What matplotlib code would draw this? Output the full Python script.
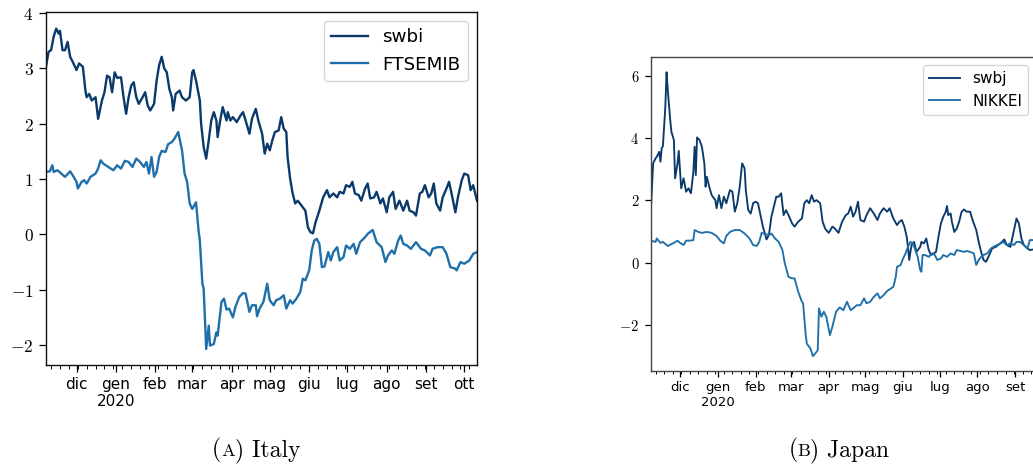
import pandas as pd
import matplotlib
matplotlib.use("Agg")
import matplotlib.pyplot as plt
import matplotlib.dates as mdates
from matplotlib.ticker import FuncFormatter

plt.rcParams['mathtext.fontset'] = 'cm'

# Italian month abbreviations for the date axis
mesi = ['gen', 'feb', 'mar', 'apr', 'mag', 'giu', 'lug', 'ago', 'set', 'ott', 'nov', 'dic']

start = pd.Timestamp('2019-11-07')

# ---- Italy: days since start, values ----
swbi_day = [0, 2, 4, 6, 8, 10, 11, 13, 15, 17, 19, 21, 24, 26, 29, 31, 32, 34, 36, 39,
            41, 44, 46, 48, 50, 52, 54, 56, 59, 61, 63, 65, 67, 69, 71, 73, 76, 78, 80, 82,
            85, 87, 89, 91, 93, 95, 97, 99, 100, 102, 105, 107, 110, 113, 115, 116, 118, 121, 122, 124,
            126, 128, 130, 132, 134, 135, 137, 139, 142, 143, 145, 147, 150, 153, 155, 157, 160, 162, 165, 167,
            170, 172, 174, 176, 178, 180, 183, 185, 187, 189, 190, 192, 194, 196, 198, 201, 204, 206, 208, 210,
            212, 215, 218, 221, 223, 226, 229, 231, 234, 236, 239, 241, 243, 246, 248, 251, 253, 255, 258, 260,
            263, 265, 268, 270, 273, 275, 278, 281, 284, 286, 289, 291, 294, 296, 298, 301, 303, 305, 307, 310,
            312, 315, 317, 319, 322, 324, 327, 329, 332, 334, 336, 339]
swbi = [3.03, 3.30, 3.33, 3.57, 3.72, 3.63, 3.68, 3.33, 3.33, 3.48, 3.21, 3.12, 2.97, 3.09, 3.03, 2.60, 2.48, 2.54, 2.42, 2.48,
        2.09, 2.42, 2.57, 2.87, 2.84, 2.57, 2.93, 2.83, 2.84, 2.48, 2.18, 2.48, 2.69, 2.75, 2.48, 2.36, 2.48, 2.57, 2.33, 2.24,
        2.36, 2.78, 3.06, 3.21, 3.00, 2.93, 2.63, 2.48, 2.24, 2.54, 2.60, 2.48, 2.42, 2.48, 2.93, 2.97, 2.78, 2.42, 2.00, 1.58,
        1.37, 1.70, 2.06, 2.21, 2.06, 1.76, 2.06, 2.30, 2.06, 2.21, 2.06, 2.12, 2.03, 2.15, 2.21, 2.06, 1.82, 2.09, 2.27, 2.06,
        1.82, 1.46, 1.64, 1.52, 1.70, 1.85, 1.88, 2.12, 1.91, 1.85, 1.40, 1.01, 0.74, 0.56, 0.61, 0.52, 0.43, 0.13, 0.04, 0.02,
        0.22, 0.43, 0.67, 0.80, 0.67, 0.74, 0.67, 0.77, 0.74, 0.89, 0.86, 0.95, 0.74, 0.71, 0.61, 0.83, 0.92, 0.65, 0.67, 0.77,
        0.56, 0.65, 0.40, 0.67, 0.77, 0.46, 0.61, 0.43, 0.61, 0.43, 0.40, 0.34, 0.74, 0.77, 0.89, 0.67, 0.74, 0.92, 0.56, 0.43,
        0.67, 0.83, 0.95, 0.74, 0.40, 0.67, 0.98, 1.10, 1.07, 0.80, 0.89, 0.61]

ftse_day = [0, 3, 5, 6, 9, 12, 15, 19, 21, 24, 25, 28, 30, 32, 35, 39, 41, 43, 45, 49,
            53, 56, 59, 62, 65, 68, 71, 74, 77, 79, 81, 83, 85, 87, 89, 91, 94, 96, 99, 101,
            104, 107, 109, 111, 113, 115, 118, 120, 121, 123, 124, 126, 128, 129, 132, 134, 135, 138, 140, 142,
            144, 147, 149, 152, 155, 157, 160, 162, 165, 166, 168, 171, 174, 176, 179, 181, 184, 187, 189, 192,
            194, 197, 200, 202, 204, 207, 209, 211, 213, 215, 217, 219, 222, 224, 226, 229, 231, 234, 236, 239,
            242, 244, 247, 251, 253, 257, 260, 264, 267, 269, 272, 274, 277, 279, 281, 284, 287, 291, 295, 298,
            302, 304, 308, 312, 315, 318, 322, 323, 326, 329, 333, 336, 339]
ftsemib = [1.13, 1.14, 1.25, 1.13, 1.16, 1.10, 1.04, 1.14, 1.07, 0.95, 0.83, 0.95, 0.98, 0.92, 1.04, 1.10, 1.19, 1.34, 1.28, 1.22,
           1.16, 1.25, 1.19, 1.33, 1.31, 1.22, 1.37, 1.31, 1.22, 1.31, 1.10, 1.40, 1.04, 1.13, 1.40, 1.51, 1.49, 1.63, 1.67, 1.73,
           1.85, 1.52, 1.10, 0.95, 0.56, 0.46, 0.58, 0.07, -0.11, -0.89, -0.98, -2.07, -1.65, -2.01, -1.98, -1.77, -1.83, -1.22, -1.16, -1.36,
           -1.34, -1.50, -1.31, -1.13, -1.06, -1.07, -1.40, -1.28, -1.28, -1.48, -1.34, -1.22, -0.89, -1.19, -1.28, -1.19, -1.16, -1.10, -1.34, -1.19,
           -1.25, -1.16, -1.04, -0.80, -0.83, -0.65, -0.29, -0.11, -0.08, -0.17, -0.59, -0.58, -0.32, -0.47, -0.32, -0.23, -0.47, -0.41, -0.20, -0.26,
           -0.17, -0.35, -0.14, -0.05, 0.01, 0.08, -0.14, -0.23, -0.50, -0.38, -0.29, -0.35, -0.11, -0.02, -0.17, -0.20, -0.26, -0.14, -0.26, -0.29,
           -0.38, -0.26, -0.23, -0.23, -0.35, -0.59, -0.62, -0.65, -0.50, -0.53, -0.47, -0.35, -0.32]

# ---- Japan ----
swbj_day = [0, 2, 4, 5, 7, 8, 9, 10, 12, 13, 14, 16, 17, 19, 20, 22, 23, 25, 27, 29,
            31, 33, 35, 36, 37, 38, 40, 42, 44, 45, 46, 48, 50, 53, 54, 56, 58, 60, 62, 65,
            67, 69, 71, 73, 75, 77, 78, 80, 82, 84, 86, 88, 90, 92, 95, 97, 99, 103, 105, 107,
            109, 111, 113, 116, 118, 121, 124, 126, 128, 130, 132, 134, 136, 139, 141, 143, 146, 149, 151, 154,
            157, 160, 162, 164, 166, 168, 170, 172, 175, 177, 180, 183, 186, 188, 191, 194, 196, 199, 202, 204,
            206, 208, 210, 211, 212, 213, 214, 216, 218, 221, 222, 224, 226, 228, 230, 232, 234, 236, 238, 240,
            242, 243, 244, 246, 247, 249, 251, 253, 255, 257, 259, 262, 264, 265, 267, 269, 271, 273, 275, 277,
            280, 283, 285, 288, 290, 292, 295, 298, 300, 302, 304, 306, 309, 311, 314]
swbj = [1.58, 3.19, 3.35, 3.40, 3.56, 3.24, 3.67, 3.74, 5.00, 6.11, 5.54, 4.58, 4.20, 3.94, 2.71, 3.19, 3.59, 2.39, 2.71, 2.28,
        2.39, 2.23, 2.92, 3.72, 2.81, 4.02, 3.94, 3.72, 3.19, 2.44, 2.76, 2.44, 2.17, 2.01, 1.75, 2.17, 1.75, 2.12, 1.91, 2.33,
        2.28, 1.64, 1.91, 2.44, 3.19, 3.03, 2.33, 1.69, 1.58, 1.91, 1.96, 1.91, 1.53, 1.16, 0.75, 0.90, 1.48, 2.12, 2.12, 2.23,
        1.53, 1.69, 1.53, 1.26, 1.16, 1.32, 1.42, 1.91, 2.01, 1.91, 2.17, 1.96, 2.01, 1.91, 1.32, 1.10, 0.96, 1.16, 1.10, 0.96,
        1.32, 1.53, 1.58, 1.80, 1.48, 1.64, 1.96, 1.37, 1.32, 1.53, 1.75, 1.58, 1.37, 1.58, 1.75, 1.64, 1.75, 1.42, 1.21, 1.32,
        1.37, 1.16, 0.83, 0.51, 0.09, 0.35, 0.57, 0.67, 0.35, 0.51, 0.67, 0.62, 0.78, 0.41, 0.25, 0.30, 0.35, 0.83, 1.26, 1.48,
        1.64, 1.82, 1.53, 1.58, 1.32, 0.99, 1.10, 1.32, 1.64, 1.71, 1.64, 1.64, 1.37, 1.26, 1.05, 0.67, 0.35, 0.09, 0.03, 0.19,
        0.46, 0.51, 0.57, 0.67, 0.75, 0.57, 0.51, 1.05, 1.42, 1.26, 0.78, 0.57, 0.46, 0.41, 0.43]

nikkei_day = [0, 4, 5, 8, 10, 14, 19, 22, 24, 27, 29, 32, 35, 36, 39, 42, 46, 50, 54, 57,
              60, 62, 65, 69, 73, 77, 81, 84, 87, 89, 91, 94, 97, 99, 102, 105, 108, 110, 113, 116,
              118, 121, 124, 125, 127, 128, 131, 133, 135, 137, 138, 140, 142, 144, 147, 149, 152, 155, 158, 161,
              164, 166, 169, 172, 175, 177, 180, 183, 186, 188, 191, 194, 196, 199, 201, 202, 205, 207, 209, 211,
              213, 215, 217, 219, 221, 222, 223, 225, 228, 231, 233, 235, 238, 240, 243, 246, 249, 251, 254, 257,
              259, 262, 265, 267, 269, 271, 273, 276, 279, 281, 284, 287, 289, 292, 295, 298, 300, 303, 306, 309,
              311, 314]
nikkei = [0.71, 0.67, 0.78, 0.64, 0.67, 0.54, 0.64, 0.71, 0.64, 0.57, 0.71, 0.71, 0.73, 1.05, 0.99, 0.96, 0.99, 0.96, 0.86, 0.71,
          0.62, 0.86, 0.99, 1.05, 1.05, 0.94, 0.78, 0.57, 0.54, 0.67, 0.96, 0.92, 0.89, 0.94, 0.78, 0.67, 0.41, -0.02, -0.45, -0.50,
          -0.50, -0.93, -1.25, -1.30, -2.26, -2.59, -2.75, -2.99, -2.91, -2.80, -1.46, -1.73, -1.57, -1.73, -2.32, -2.05, -1.57, -1.43, -1.52, -1.25,
          -1.52, -1.46, -1.36, -1.36, -1.14, -1.30, -1.25, -1.09, -0.98, -1.14, -1.04, -0.90, -0.85, -0.77, -0.45, -0.13, -0.07, 0.14, 0.30, 0.51,
          0.67, 0.62, 0.41, 0.19, -0.23, -0.29, 0.25, 0.25, 0.19, 0.30, 0.25, 0.09, 0.14, 0.25, 0.19, 0.30, 0.25, 0.41, 0.38, 0.35,
          0.38, 0.35, 0.30, -0.07, 0.09, 0.19, 0.25, 0.30, 0.46, 0.51, 0.57, 0.62, 0.67, 0.57, 0.62, 0.57, 0.67, 0.67, 0.57, 0.46,
          0.73, 0.73]

DARK = '#0a3a6c'
LIGHT = '#1f6fa9'


def to_dates(days):
    return start + pd.to_timedelta(days, unit='D')


def month_label(x, pos):
    d = mdates.num2date(x)
    if d.month == 1:
        return f'{mesi[0]}\n{d.year}'
    return mesi[d.month - 1]


def style_axis(ax, end_day, ylim, xfs, yfs, major_len, minor_len, spine_col):
    ax.set_xlim(start, start + pd.Timedelta(days=end_day))
    ax.set_ylim(*ylim)
    ax.xaxis.set_major_locator(mdates.MonthLocator())
    ax.xaxis.set_minor_locator(mdates.WeekdayLocator(byweekday=mdates.MO))
    ax.xaxis.set_major_formatter(FuncFormatter(month_label))
    ax.yaxis.set_major_formatter(FuncFormatter(lambda v, p: f'${v:g}$'))
    ax.tick_params(axis='x', which='major', labelsize=xfs, length=major_len, width=0.9)
    ax.tick_params(axis='x', which='minor', length=minor_len, width=0.7)
    ax.tick_params(axis='y', labelsize=yfs, length=major_len, width=0.9, pad=4)
    for s in ax.spines.values():
        s.set_color(spine_col)
        s.set_linewidth(1.0)


W, H = 1033, 469
fig = plt.figure(figsize=(W / 100, H / 100), dpi=100)

ax1 = fig.add_axes([46 / W, 1 - 365 / H, 431 / W, 353 / H])
ax1.plot(to_dates(swbi_day), swbi, color=DARK, lw=1.7, label='swbi')
ax1.plot(to_dates(ftse_day), ftsemib, color=LIGHT, lw=1.7, label='FTSEMIB')
style_axis(ax1, 339, (-2.36, 4.02), 11, 12.5, 5.0, 3.0, '#111111')
ax1.set_yticks([-2, -1, 0, 1, 2, 3, 4])
ax1.legend(loc='upper right', fontsize=13.2, handlelength=2.0)

ax2 = fig.add_axes([650.7 / W, 1 - 370.7 / H, 385.3 / W, 313.4 / H])
ax2.plot(to_dates(swbj_day), swbj, color=DARK, lw=1.35, label='swbj')
ax2.plot(to_dates(nikkei_day), nikkei, color=LIGHT, lw=1.35, label='NIKKEI')
style_axis(ax2, 316, (-3.46, 6.59), 9.5, 10.5, 4.2, 2.4, '#444444')
ax2.set_yticks([-2, 0, 2, 4, 6])
ax2.legend(loc='upper right', fontsize=11, handlelength=2.0)


def caption(xc, y, parts):
    # lay out caption pieces left to right so the small-cap letter sits inline
    r = fig.canvas.get_renderer()
    texts = [fig.text(0, y, s, fontsize=fs, family='cmr10', va='baseline') for s, fs in parts]
    widths = [t.get_window_extent(r).width for t in texts]
    x = xc - sum(widths) / 2
    for t, w in zip(texts, widths):
        t.set_x(x / W)
        x += w


caption(256, 1 - 456 / H, [('(', 17), ('A', 13.2), (') Italy', 17)])
caption(839, 1 - 456 / H, [('(', 17), ('B', 13.2), (') Japan', 17)])

fig.savefig('out.png', dpi=100)
